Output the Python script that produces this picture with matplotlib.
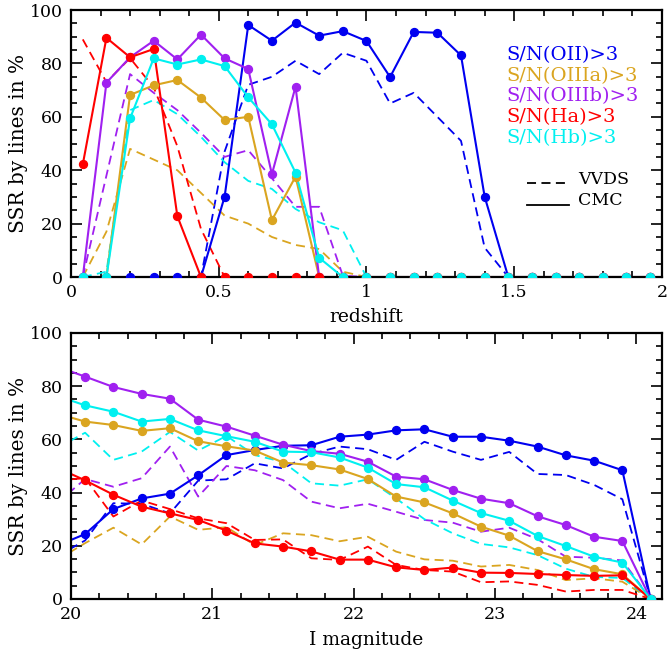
import numpy as np
import matplotlib
matplotlib.use("Agg")
import matplotlib.pyplot as plt
from matplotlib.ticker import MultipleLocator

plt.rcParams['font.family'] = ['DejaVu Serif']

# redshift bins (upper panel)
z = [0.04, 0.12, 0.20, 0.28, 0.36, 0.44, 0.52, 0.60, 0.68, 0.76, 0.84, 0.92, 1.00,
     1.08, 1.16, 1.24, 1.32, 1.40, 1.48, 1.56, 1.64, 1.72, 1.80, 1.88, 1.96]

# CMC success rates vs redshift
z_oii = [0, 0, 0, 0, 0, 0, 30.1, 94.4, 88.5, 95.3, 90.4, 92.1, 88.4,
         74.9, 91.8, 91.5, 83.0, 30.1, 0, 0, 0, 0, 0, 0, 0]
z_oiiia = [0, 0, 68.2, 71.8, 73.8, 67.2, 58.8, 60.0, 21.3, 37.6, 0, 0, 0,
           0, 0, 0, 0, 0, 0, 0, 0, 0, 0, 0, 0]
z_oiiib = [0, 72.8, 82.3, 88.5, 81.5, 90.8, 81.9, 77.9, 38.5, 71.3, 0, 0, 0,
           0, 0, 0, 0, 0, 0, 0, 0, 0, 0, 0, 0]
z_ha = [42.2, 89.6, 82.3, 85.4, 22.8, 0, 0, 0, 0, 0, 0, 0, 0,
        0, 0, 0, 0, 0, 0, 0, 0, 0, 0, 0, 0]
z_hb = [0, 0, 59.4, 81.9, 79.6, 81.5, 79.0, 67.3, 57.2, 39.1, 7.2, 0, 0,
        0, 0, 0, 0, 0, 0, 0, 0, 0, 0, 0, 0]

# VVDS success rates vs redshift
zv_oii = [0, 0, 0, 0, 0, 0, 47.0, 72.0, 75.0, 81.0, 76.0, 84.0, 81.0,
          65.0, 69.0, 60.0, 51.0, 11.0, 0, 0, 0, 0, 0, 0, 0]
zv_oiiia = [0, 17.0, 48.0, 44.0, 40.0, 31.5, 23.0, 20.0, 15.0, 12.0, 10.5, 2.0, 0,
            0, 0, 0, 0, 0, 0, 0, 0, 0, 0, 0, 0]
zv_oiiib = [0, 38.0, 76.0, 69.0, 62.5, 54.0, 45.0, 47.5, 37.0, 26.3, 26.3, 0.5, 0,
            0, 0, 0, 0, 0, 0, 0, 0, 0, 0, 0, 0]
zv_ha = [89.0, 73.0, 82.0, 71.0, 49.0, 18.0, 0, 0, 0, 0, 0, 0, 0,
         0, 0, 0, 0, 0, 0, 0, 0, 0, 0, 0, 0]
zv_hb = [0, 2.0, 62.5, 66.3, 61.0, 52.5, 43.0, 36.0, 33.0, 25.5, 20.5, 17.5, 0,
         0, 0, 0, 0, 0, 0, 0, 0, 0, 0, 0, 0]

# I magnitude bins (lower panel)
mag = [19.9, 20.1, 20.3, 20.5, 20.7, 20.9, 21.1, 21.3, 21.5, 21.7, 21.9,
       22.1, 22.3, 22.5, 22.7, 22.9, 23.1, 23.3, 23.5, 23.7, 23.9, 24.1]

m_oii = [20.0, 24.4, 33.8, 37.8, 39.6, 46.5, 54.1, 56.0, 57.6, 57.8, 61.0,
         61.8, 63.4, 63.8, 61.0, 61.0, 59.5, 57.3, 54.0, 52.0, 48.4, 0]
m_oiiia = [69.7, 66.7, 65.4, 63.2, 64.2, 59.3, 57.4, 55.8, 51.3, 50.3, 48.7,
           45.1, 38.5, 36.3, 32.2, 27.2, 23.8, 18.0, 14.9, 11.2, 9.3, 0]
m_oiiib = [87.4, 83.6, 79.7, 77.1, 75.3, 67.4, 64.8, 61.4, 58.0, 55.6, 54.6,
           51.6, 46.0, 45.0, 41.0, 37.7, 36.0, 31.1, 27.8, 23.4, 21.8, 0]
m_ha = [49.4, 44.6, 39.2, 34.7, 32.2, 29.7, 25.7, 20.9, 19.7, 17.9, 14.8,
        14.8, 11.9, 10.9, 11.8, 9.9, 9.8, 9.4, 9.0, 8.7, 8.9, 0]
m_hb = [76.4, 72.8, 70.4, 66.7, 67.7, 63.4, 61.2, 59.1, 55.4, 55.2, 53.2,
        49.4, 43.2, 42.0, 37.0, 32.3, 29.4, 23.7, 19.9, 15.9, 13.7, 0]

mv_oii = [16.0, 22.0, 36.0, 35.8, 32.2, 44.5, 45.0, 51.0, 49.1, 54.5, 57.3,
          56.3, 52.3, 59.1, 55.4, 52.3, 55.3, 47.0, 46.6, 42.9, 37.5, 0]
mv_oiiia = [14.6, 21.0, 26.8, 20.5, 31.0, 26.0, 27.0, 20.3, 24.7, 24.0, 21.7,
            23.4, 17.8, 14.9, 14.4, 12.2, 12.8, 10.9, 7.1, 7.8, 6.5, 0]
mv_oiiib = [36.0, 45.1, 42.2, 45.4, 57.3, 38.5, 50.0, 48.4, 44.7, 36.6, 34.1,
            35.8, 32.8, 29.7, 28.7, 25.3, 26.8, 22.5, 15.9, 15.5, 14.5, 0]
mv_ha = [44.6, 45.4, 31.0, 37.0, 33.8, 30.3, 28.5, 22.2, 22.4, 15.3, 14.7,
         19.7, 12.8, 10.9, 10.3, 6.3, 6.6, 5.3, 2.8, 3.4, 3.4, 0]
mv_hb = [56.7, 62.5, 52.3, 55.4, 62.8, 55.8, 61.3, 54.1, 51.5, 43.5, 42.6,
         45.0, 37.8, 30.0, 24.7, 20.7, 19.4, 16.5, 11.4, 8.3, 7.9, 0]

labels = ["S/N(OII)>3", "S/N(OIIIa)>3", "S/N(OIIIb)>3", "S/N(Ha)>3", "S/N(Hb)>3"]
colors = ["#0000f0", "#daa520", "#a020f0", "#ff0000", "#00f0f0"]

dash = (0, (5, 3))


def draw_panel(ax, x, cmc, vvds):
    # dashed VVDS curves underneath, red dashes last so they sit on the zero line
    order = [0, 1, 2, 4, 3]
    for i in order:
        ax.plot(x, vvds[i], color=colors[i], lw=1.3, linestyle=dash, zorder=2)
    for i in range(5):
        ax.plot(x, cmc[i], color=colors[i], lw=1.5, zorder=2.2 + 0.01 * i)
    for i in range(5):
        ax.plot(x, cmc[i], 'o', color=colors[i], ms=5.7, zorder=3 + 0.01 * i)


def style_axes(ax):
    for s in ax.spines.values():
        s.set_linewidth(1.6)
    ax.tick_params(which='both', direction='in', top=True, right=True,
                   labelsize=12.5, width=1.2)
    ax.tick_params(which='major', length=8)
    ax.tick_params(which='minor', length=4)
    ax.tick_params(axis='y', pad=6)
    ax.tick_params(axis='x', pad=5)
    ax.set_ylim(0, 100)
    ax.yaxis.set_major_locator(MultipleLocator(20))
    ax.yaxis.set_minor_locator(MultipleLocator(5))
    ax.set_ylabel("SSR by lines in %", fontsize=14.5, labelpad=1)


fig = plt.figure(figsize=(6.67, 6.56), dpi=100)
ax1 = fig.add_axes([0.1064, 0.5777, 0.886, 0.407])
ax2 = fig.add_axes([0.1064, 0.0869, 0.886, 0.4055])

draw_panel(ax1, z, [z_oii, z_oiiia, z_oiiib, z_ha, z_hb],
           [zv_oii, zv_oiiia, zv_oiiib, zv_ha, zv_hb])
style_axes(ax1)
ax1.set_xlim(0, 2)
ax1.xaxis.set_minor_locator(MultipleLocator(0.1))
ax1.set_xticks([0, 0.5, 1, 1.5, 2])
ax1.set_xticklabels(["0", "0.5", "1", "1.5", "2"])
ax1.set_xlabel("redshift", fontsize=13.5, labelpad=5)

# coloured legend text
text_y = [0.831, 0.753, 0.676, 0.598, 0.521]
for lab, col, ty in zip(labels, colors, text_y):
    ax1.text(0.737, ty, lab, color=col, fontsize=14, transform=ax1.transAxes,
             va='center', ha='left')

ax1.plot([0.771, 0.842], [0.351, 0.351], color='black', lw=1.3, linestyle=dash,
         transform=ax1.transAxes)
ax1.plot([0.771, 0.842], [0.268, 0.268], color='black', lw=1.3,
         transform=ax1.transAxes)
ax1.text(0.858, 0.365, "VVDS", fontsize=12.5, transform=ax1.transAxes,
         va='center', ha='left')
ax1.text(0.858, 0.285, "CMC", fontsize=12.5, transform=ax1.transAxes,
         va='center', ha='left')

draw_panel(ax2, mag, [m_oii, m_oiiia, m_oiiib, m_ha, m_hb],
           [mv_oii, mv_oiiia, mv_oiiib, mv_ha, mv_hb])
style_axes(ax2)
ax2.set_xlim(20, 24.18)
ax2.xaxis.set_major_locator(MultipleLocator(1))
ax2.xaxis.set_minor_locator(MultipleLocator(0.2))
ax2.set_xlabel("I magnitude", fontsize=13.5, labelpad=6)

fig.savefig("out.png", dpi=100)
